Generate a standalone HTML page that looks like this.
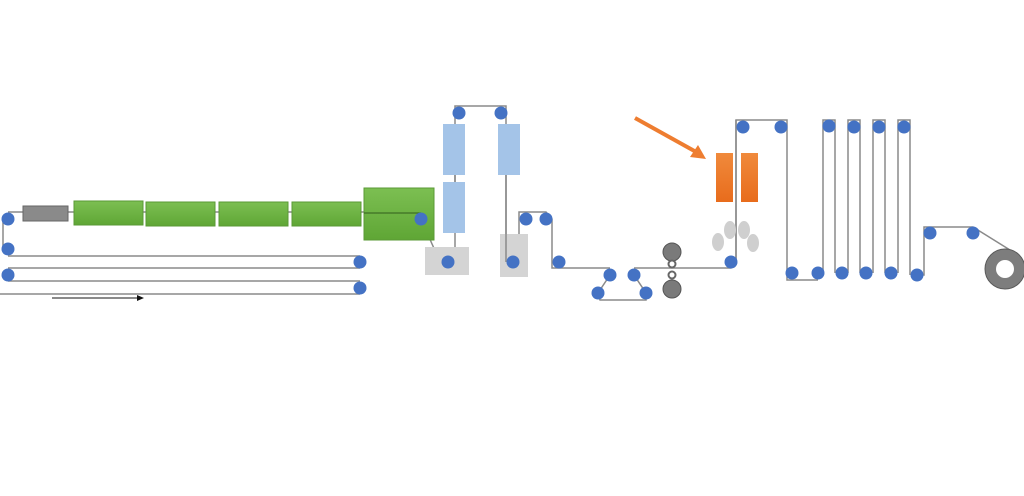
<!DOCTYPE html>
<html><head><meta charset="utf-8"><style>html,body{margin:0;padding:0;background:#fff;width:1024px;height:496px;overflow:hidden}</style></head>
<body>
<svg width="1024" height="496" viewBox="0 0 1024 496" xmlns="http://www.w3.org/2000/svg">
<defs>
<linearGradient id="g" x1="0" y1="0" x2="0" y2="1"><stop offset="0" stop-color="#7cbf52"/><stop offset="1" stop-color="#5fa635"/></linearGradient>
<linearGradient id="o" x1="0" y1="0" x2="0" y2="1"><stop offset="0" stop-color="#f08a3c"/><stop offset="1" stop-color="#e86c1c"/></linearGradient>
</defs>
<g fill="none" stroke="#8a8a8a" stroke-width="1.5">
<!-- left loops -->
<polyline points="8,219 3,219 3,249 8,249"/>
<line x1="8" y1="256" x2="360" y2="256"/>
<line x1="8" y1="268" x2="360" y2="268"/>
<line x1="8" y1="281" x2="360" y2="281"/>
<line x1="0" y1="294" x2="360" y2="294"/>
<line x1="8" y1="212" x2="421" y2="212"/>
<line x1="421" y1="219" x2="440" y2="262"/>
<!-- first tower -->
<polyline points="455,262 455,106 506,106 506,262"/>
<!-- second -->
<polyline points="513,262 519,262 519,212 546,212 552,219 552,268 610,268"/>
<polyline points="610,275 598,293 600,300 646,300 646,293 634,275"/>
<polyline points="634,268 731,268 736,262 736,120 787,120 787,280 818,280"/>
<polyline points="823,273 823,120 835,120 835,273"/>
<polyline points="848,273 848,120 860,120 860,273"/>
<polyline points="873,273 873,120 885,120 885,273"/>
<polyline points="898,273 898,120 910,120 910,275"/>
<polyline points="917,275 924,275 924,227 973,227 1010,250"/>
</g>
<line x1="52" y1="298" x2="138" y2="298" stroke="#444" stroke-width="1.2"/>
<polygon points="137,295 144,298 137,301" fill="#111"/>
<!-- boxes -->
<rect x="23" y="206" width="45" height="15" fill="#8a8a8a" stroke="#666"/>
<rect x="74" y="201" width="69" height="24" fill="url(#g)" stroke="#5a9a35"/>
<rect x="146" y="202" width="69" height="24" fill="url(#g)" stroke="#5a9a35"/>
<rect x="219" y="202" width="69" height="24" fill="url(#g)" stroke="#5a9a35"/>
<rect x="292" y="202" width="69" height="24" fill="url(#g)" stroke="#5a9a35"/>
<rect x="364" y="188" width="70" height="52" fill="url(#g)" stroke="#5a9a35"/>
<line x1="364" y1="213" x2="421" y2="213" stroke="#3e6e25" stroke-width="1.2"/>
<rect x="425" y="247" width="44" height="28" fill="#d4d4d4"/>
<rect x="500" y="234" width="28" height="43" fill="#d4d4d4"/>
<rect x="443" y="124" width="22" height="51" fill="#a4c4e8"/>
<rect x="443" y="182" width="22" height="51" fill="#a4c4e8"/>
<rect x="498" y="124" width="22" height="51" fill="#a4c4e8"/>
<line x1="455" y1="175" x2="455" y2="182" stroke="#8a8a8a" stroke-width="1.5"/>
<line x1="506" y1="175" x2="506" y2="262" stroke="#8a8a8a" stroke-width="1.5"/>
<rect x="716" y="153" width="17" height="49" fill="url(#o)"/>
<rect x="741" y="153" width="17" height="49" fill="url(#o)"/>
<line x1="736" y1="120" x2="736" y2="262" stroke="#8a8a8a" stroke-width="1.5"/>
<line x1="635" y1="118" x2="698" y2="153" stroke="#ee7d30" stroke-width="4"/>
<polygon points="706,159 690,157 698,145" fill="#ee7d30"/>
<g fill="#cfcfcf"><ellipse cx="718" cy="242" rx="6" ry="9"/><ellipse cx="730" cy="230" rx="6" ry="9"/><ellipse cx="744" cy="230" rx="6" ry="9"/><ellipse cx="753" cy="243" rx="6" ry="9"/></g>
<!-- rollers -->
<circle cx="672" cy="252" r="9" fill="#7a7a7a" stroke="#555"/>
<circle cx="672" cy="289" r="9" fill="#7a7a7a" stroke="#555"/>
<circle cx="672" cy="264" r="3.5" fill="#fff" stroke="#666" stroke-width="2"/>
<circle cx="672" cy="275" r="3.5" fill="#fff" stroke="#666" stroke-width="2"/>
<circle cx="1005" cy="269" r="20" fill="#7d7d7d" stroke="#5a5a5a"/>
<circle cx="1005" cy="269" r="9" fill="#fff"/>
<g fill="#4472c4">
<circle cx="8" cy="219" r="6.5"/><circle cx="8" cy="249" r="6.5"/><circle cx="8" cy="275" r="6.5"/>
<circle cx="360" cy="262" r="6.5"/><circle cx="360" cy="288" r="6.5"/><circle cx="421" cy="219" r="6.5"/>
<circle cx="448" cy="262" r="6.5"/><circle cx="513" cy="262" r="6.5"/><circle cx="459" cy="113" r="6.5"/><circle cx="501" cy="113" r="6.5"/>
<circle cx="526" cy="219" r="6.5"/><circle cx="546" cy="219" r="6.5"/><circle cx="559" cy="262" r="6.5"/>
<circle cx="610" cy="275" r="6.5"/><circle cx="634" cy="275" r="6.5"/><circle cx="598" cy="293" r="6.5"/><circle cx="646" cy="293" r="6.5"/>
<circle cx="731" cy="262" r="6.5"/><circle cx="743" cy="127" r="6.5"/><circle cx="781" cy="127" r="6.5"/>
<circle cx="792" cy="273" r="6.5"/><circle cx="818" cy="273" r="6.5"/>
<circle cx="829" cy="126" r="6.5"/><circle cx="854" cy="127" r="6.5"/><circle cx="879" cy="127" r="6.5"/><circle cx="904" cy="127" r="6.5"/>
<circle cx="842" cy="273" r="6.5"/><circle cx="866" cy="273" r="6.5"/><circle cx="891" cy="273" r="6.5"/><circle cx="917" cy="275" r="6.5"/>
<circle cx="930" cy="233" r="6.5"/><circle cx="973" cy="233" r="6.5"/>
</g>
</svg>
</body></html>
